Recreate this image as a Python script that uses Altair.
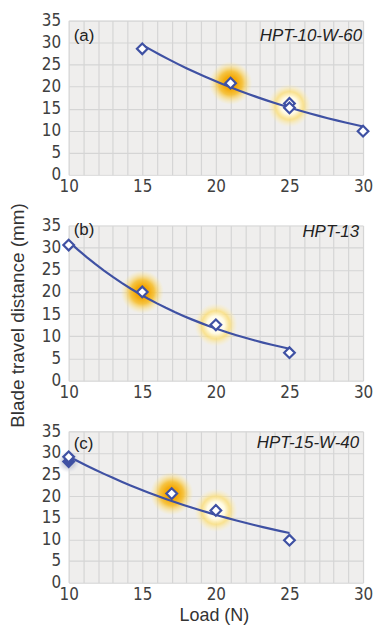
import altair as alt
import pandas as pd

# ---- data ----
a_load = [15, 21, 25, 25, 30]
a_dist = [28.6, 20.8, 16.2, 15.2, 9.9]
a_marker = ["open", "open", "open", "open", "open"]
a_strong_load, a_strong_dist = [21], [20.8]
a_light_load, a_light_dist = [25], [15.7]

b_load = [10, 15, 20, 25]
b_dist = [30.6, 20.0, 12.6, 6.3]
b_marker = ["open", "open", "open", "open"]
b_strong_load, b_strong_dist = [15], [20.0]
b_light_load, b_light_dist = [20], [12.6]

c_load = [10, 10, 17, 20, 25]
c_dist = [28.0, 29.1, 20.6, 16.7, 9.8]
c_marker = ["solid", "open", "open", "open", "open"]
c_strong_load, c_strong_dist = [17], [20.6]
c_light_load, c_light_dist = [20], [16.7]
c_shadow_load, c_shadow_dist = [10], [28.0]

x_ticks = list(range(10, 31))
y_ticks = [0, 5, 10, 15, 20, 25, 30, 35]

BLUE = "#3f51a3"
FONT = "Liberation Sans"
TICKFONT = "Liberation Sans Narrow, DejaVu Sans Condensed, Liberation Sans"
W = 296

strong_grad = alt.RadialGradient(
    gradient="radial",
    stops=[
        alt.GradientStop(offset=0, color="#f1a000"),
        alt.GradientStop(offset=0.3, color="#f4a908"),
        alt.GradientStop(offset=0.55, color="rgba(247,188,36,0.85)"),
        alt.GradientStop(offset=0.8, color="rgba(251,218,110,0.4)"),
        alt.GradientStop(offset=1, color="rgba(255,235,150,0)"),
    ],
)
light_grad = alt.RadialGradient(
    gradient="radial",
    stops=[
        alt.GradientStop(offset=0, color="#ffffff"),
        alt.GradientStop(offset=0.4, color="#fffbe6"),
        alt.GradientStop(offset=0.65, color="rgba(251,222,120,0.8)"),
        alt.GradientStop(offset=0.85, color="rgba(253,232,160,0.35)"),
        alt.GradientStop(offset=1, color="rgba(255,240,180,0)"),
    ],
)
shadow_grad = alt.RadialGradient(
    gradient="radial",
    stops=[
        alt.GradientStop(offset=0, color="#aeb3c8"),
        alt.GradientStop(offset=0.6, color="rgba(190,195,210,0.6)"),
        alt.GradientStop(offset=1, color="rgba(220,222,230,0)"),
    ],
)


def panel(load, dist, marker, strong, light, tag, name, height, tag_y, name_y,
          name_x, show_x_title=False, show_y_title=False, shadow=None):
    df = pd.DataFrame({"load": load, "dist": dist, "marker": marker})
    xs = alt.Scale(domain=[10, 30], nice=False)
    ys = alt.Scale(domain=[0, 35], nice=False)
    if show_x_title:
        x_axis = alt.Axis(values=x_ticks,
                          labelExpr="datum.value % 5 == 0 ? datum.label : ''",
                          labelOverlap=False, labelFlush=False,
                          title="Load (N)",
                          titleX=146, titleY=33, titleBaseline="middle")
    else:
        x_axis = alt.Axis(values=x_ticks,
                          labelExpr="datum.value % 5 == 0 ? datum.label : ''",
                          labelOverlap=False, labelFlush=False, title=None)
    if show_y_title:
        y_axis = alt.Axis(values=y_ticks, labelOverlap=False,
                          title="Blade travel distance (mm)",
                          titleX=-41, titleY=90, titleFontSize=19)
    else:
        y_axis = alt.Axis(values=y_ticks, labelOverlap=False, title=None)

    X = alt.X("load:Q", scale=xs, axis=x_axis)
    Y = alt.Y("dist:Q", scale=ys, axis=y_axis)

    base = alt.Chart(df)
    layers = [base.mark_point(opacity=0).encode(x=X, y=Y)]

    def glow(lx, ly, grad, size):
        return alt.Chart(pd.DataFrame({"load": lx, "dist": ly})).mark_point(
            shape="circle", filled=True, size=size, fill=grad, opacity=1,
            strokeWidth=0
        ).encode(x=X, y=Y)

    layers.append(glow(strong[0], strong[1], strong_grad, 1900))
    layers.append(glow(light[0], light[1], light_grad, 1900))
    if shadow is not None:
        layers.append(glow(shadow[0], shadow[1], shadow_grad, 520))

    trend = base.transform_regression(
        "load", "dist", method="exp"
    ).mark_line(color=BLUE, strokeWidth=2.2).encode(x=X, y=Y)
    layers.append(trend)

    pts = base.mark_point(shape="diamond", filled=True, size=115,
                          stroke=BLUE, strokeWidth=2.2, opacity=1).encode(
        x=X, y=Y,
        fill=alt.Fill("marker:N",
                      scale=alt.Scale(domain=["open", "solid"],
                                      range=["#ffffff", BLUE]),
                      legend=None),
    )
    layers.append(pts)

    tag_chart = alt.Chart(pd.DataFrame({"t": [tag]})).mark_text(
        align="left", baseline="middle", font=FONT, fontSize=17,
        color="#222222"
    ).encode(text="t:N", x=alt.value(5), y=alt.value(tag_y))
    name_chart = alt.Chart(pd.DataFrame({"t": [name]})).mark_text(
        align="right", baseline="middle", font=FONT, fontSize=17,
        fontStyle="italic", color="#222222"
    ).encode(text="t:N", x=alt.value(name_x), y=alt.value(name_y))
    layers += [tag_chart, name_chart]

    return alt.layer(*layers).properties(width=W, height=height)


pa = panel(a_load, a_dist, a_marker, (a_strong_load, a_strong_dist),
           (a_light_load, a_light_dist), "(a)", "HPT-10-W-60", 155, 15, 15,
           W - 1)
pb = panel(b_load, b_dist, b_marker, (b_strong_load, b_strong_dist),
           (b_light_load, b_light_dist), "(b)", "HPT-13", 156, 5, 7, W - 4,
           show_y_title=True)
pc = panel(c_load, c_dist, c_marker, (c_strong_load, c_strong_dist),
           (c_light_load, c_light_dist), "(c)", "HPT-15-W-40", 152, 13, 12,
           W - 4, show_x_title=True, shadow=(c_shadow_load, c_shadow_dist))

chart = alt.vconcat(pa, pb, pc, spacing=51, bounds="flush").properties(
    padding={"left": 0, "top": 2, "right": 0, "bottom": 0},
    background="white",
).configure_view(
    fill="#efeeed", stroke=None
).configure_axis(
    grid=True, gridColor="#d5d5d5", gridWidth=1.2, domain=False, ticks=False,
    labelFont=TICKFONT, labelFontSize=17, labelColor="#404040",
    labelPadding=8, titleFont=FONT, titleFontSize=18, titleFontWeight="normal",
    titleColor="#333333",
).configure_axisX(labelPadding=4)

chart.save("out.html", embed_options={"renderer": "svg", "actions": False})
